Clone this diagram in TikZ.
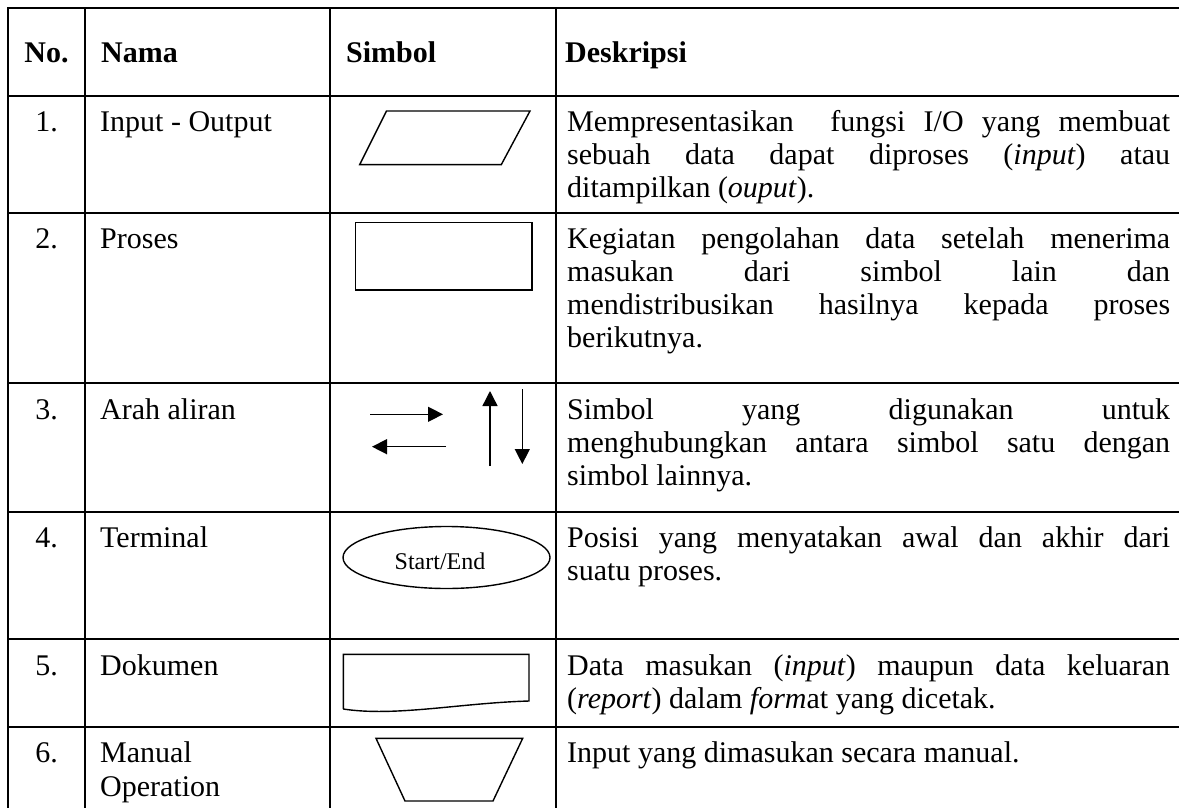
\documentclass[tikz,border=0pt]{standalone}
\usepackage{fontspec}
\setmainfont{Liberation Serif}
\usetikzlibrary{arrows.meta,shapes.geometric}
\begin{document}
\begin{tikzpicture}[x=1pt,y=-1pt,
  grid/.style={line width=2pt},
  shp/.style={line width=1.4pt, line join=miter},
  arr/.style={line width=1.4pt, -{Triangle[length=15pt,width=15pt]}},
  txt/.style={inner sep=0pt, anchor=base west, font=\fontsize{30}{33}\selectfont},
  num/.style={inner sep=0pt, anchor=base, font=\fontsize{30}{33}\selectfont},
  hd/.style={inner sep=0pt, anchor=base west, font=\fontsize{30}{33}\selectfont\bfseries},
]
\useasboundingbox (0,0) rectangle (1179,807);
% table grid
\draw[grid] (8.4,812) -- (8.4,8.4) -- (1190,8.4);
\foreach \xx in {85,330,556} \draw[grid] (\xx,8.4) -- (\xx,812);
\foreach \yy in {96,212.7,383.3,512.3,639.3,727} \draw[grid] (8.4,\yy) -- (1190,\yy);

% header
\node[hd, anchor=base] (hno) at (46.5,62) {No.};
\node[hd] (hnama) at (101,62) {Nama};
\node[hd] (hsim) at (346,62) {Simbol};
\node[hd] (hdes) at (565,62) {Deskripsi};

% numbers
\node[num] (n1) at (46.5,131) {1.};
\node[num] (n2) at (46.5,248) {2.};
\node[num] (n3) at (46.5,419) {3.};
\node[num] (n4) at (46.5,547) {4.};
\node[num] (n5) at (46.5,675) {5.};
\node[num] (n6) at (46.5,762) {6.};

% names
\node[txt] (m1) at (100,131) {Input - Output};
\node[txt] (m2) at (100,248) {Proses};
\node[txt] (m3) at (100,419) {Arah aliran};
\node[txt] (m4) at (100,547) {Terminal};
\node[txt] (m5) at (100,675) {Dokumen};
\node[txt] (m6a) at (100,762) {Manual};
\node[txt] (m6b) at (100,796) {Operation};

% descriptions
\def\W{603pt}
\node[txt] (d1a) at (567,131) {\makebox[\W][s]{Mempresentasikan\ \ fungsi I/O yang membuat}};
\node[txt] (d1b) at (567,164) {\makebox[\W][s]{sebuah data dapat diproses (\textit{input}) atau}};
\node[txt] (d1c) at (567,197) {ditampilkan (\textit{ouput}).};
\node[txt] (d2a) at (567,248) {\makebox[\W][s]{Kegiatan pengolahan data setelah menerima}};
\node[txt] (d2b) at (567,281) {\makebox[\W][s]{masukan dari simbol lain dan}};
\node[txt] (d2c) at (567,314) {\makebox[\W][s]{mendistribusikan hasilnya kepada proses}};
\node[txt] (d2d) at (567,347) {berikutnya.};
\node[txt] (d3a) at (567,419) {\makebox[\W][s]{Simbol yang digunakan untuk}};
\node[txt] (d3b) at (567,452) {\makebox[\W][s]{menghubungkan antara simbol satu dengan}};
\node[txt] (d3c) at (567,485) {simbol lainnya.};
\node[txt] (d4a) at (567,547) {\makebox[\W][s]{Posisi yang menyatakan awal dan akhir dari}};
\node[txt] (d4b) at (567,580) {suatu proses.};
\node[txt] (d5a) at (567,675) {\makebox[\W][s]{Data masukan (\textit{input}) maupun data keluaran}};
\node[txt] (d5b) at (567,708) {(\textit{report}) dalam \textit{form}at yang dicetak.};
\node[txt] (d6a) at (567,762) {Input yang dimasukan secara manual.};

% symbol 1: parallelogram
\draw[shp] (386.5,111) -- (530,111) -- (501.3,164.6) -- (359.7,164.6) -- cycle;
% symbol 2: rectangle
\draw[shp] (355.3,222.7) rectangle (532,290);
% symbol 3: arrows
\coordinate (ra) at (370,414.3); \coordinate (rb) at (443,414.3);
\coordinate (la) at (446,446.7); \coordinate (lb) at (372,446.7);
\coordinate (ua) at (490,466); \coordinate (ub) at (490,391);
\coordinate (da) at (522.3,389); \coordinate (db) at (522.3,464);
\draw[arr] (ra) -- (rb);
\draw[arr] (la) -- (lb);
\draw[arr] (ua) -- (ub);
\draw[arr] (da) -- (db);
% symbol 4: terminal
\draw[shp] (446.5,557.5) ellipse [x radius=103.5, y radius=31];
\node[inner sep=0pt, anchor=base, font=\fontsize{24}{28}\selectfont] (se) at (440,569) {Start/End};
% symbol 5: document
\draw[shp] (343.3,709) -- (343.3,654.3) -- (529,654.3) -- (529,701)
  .. controls (460,703) and (395,717) .. (343.3,709);
% symbol 6: manual operation
\draw[shp] (376,738.3) -- (522.7,738.3) -- (493,801) -- (405,801) -- cycle;
\end{tikzpicture}
\end{document}
